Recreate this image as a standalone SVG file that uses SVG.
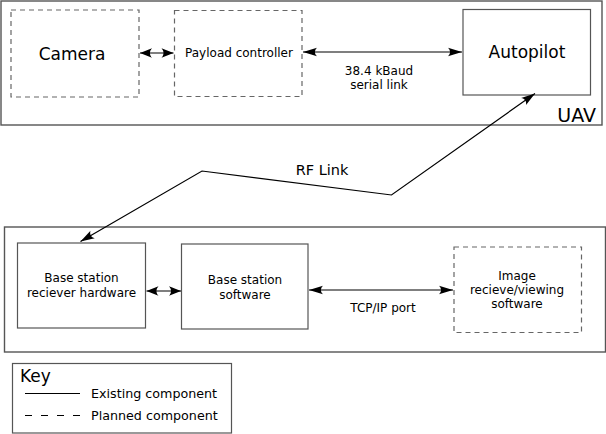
<svg xmlns="http://www.w3.org/2000/svg" width="606" height="434" viewBox="0 0 606 434">
<style>
text{font-family:"DejaVu Sans","Liberation Sans",sans-serif;fill:#000}
.box{fill:#fff;stroke:#555;stroke-width:1.2}
.dash{fill:#fff;stroke:#666;stroke-width:1.2;stroke-dasharray:5,4}
.cont{fill:#fff;stroke:#555;stroke-width:1.4}
.conn{fill:none;stroke:#000;stroke-width:1.2}
.big{font-size:17px}
.sm{font-size:12px}
.key{font-size:12.7px}
</style>
<defs>
<marker id="ah" markerUnits="userSpaceOnUse" markerWidth="17" markerHeight="11" viewBox="-15 -5.5 16 11" refX="0" refY="0" orient="auto-start-reverse">
<path d="M0,0 L-14,-4.3 C-11.3,-1.6 -11.3,1.6 -14,4.3 Z" fill="#000"/>
</marker>
<marker id="ahs" markerUnits="userSpaceOnUse" markerWidth="15" markerHeight="12" viewBox="-13 -6 14 12" refX="0" refY="0" orient="auto-start-reverse">
<path d="M0,0 L-12,-4.8 C-9.3,-1.8 -9.3,1.8 -12,4.8 Z" fill="#000"/>
</marker>
</defs>
<rect width="606" height="434" fill="#fff"/>
<g id="uav">
<rect class="cont" x="1" y="1" width="601" height="124"/>
<text x="596" y="122" font-size="19" text-anchor="end">UAV</text>
</g>
<g id="ground">
<rect class="cont" x="4.5" y="227" width="601" height="125"/>
</g>
<g id="camera">
<rect class="dash" x="11" y="10" width="128" height="87"/>
<text class="big" x="72" y="60" text-anchor="middle">Camera</text>
</g>
<g id="payload">
<rect class="dash" x="174.5" y="10.5" width="127.5" height="86"/>
<text class="sm" x="239" y="57" text-anchor="middle">Payload controller</text>
</g>
<g id="autopilot">
<rect class="box" x="463" y="9.5" width="127.5" height="85.5"/>
<text class="big" x="527" y="58" text-anchor="middle">Autopilot</text>
</g>
<g id="hw">
<rect class="box" x="17.5" y="243" width="128" height="85"/>
<text class="sm" x="81.5" y="282" text-anchor="middle">Base station</text>
<text class="sm" x="81.5" y="297" text-anchor="middle">reciever hardware</text>
</g>
<g id="sw">
<rect class="box" x="181.5" y="244" width="126.5" height="85"/>
<text class="sm" x="245" y="284" text-anchor="middle">Base station</text>
<text class="sm" x="245" y="299" text-anchor="middle">software</text>
</g>
<g id="viewer">
<rect class="dash" x="454" y="247" width="127.5" height="85.5"/>
<text class="sm" x="517" y="280" text-anchor="middle">Image</text>
<text class="sm" x="517" y="294" text-anchor="middle">recieve/viewing</text>
<text class="sm" x="517" y="308" text-anchor="middle">software</text>
</g>
<g id="connectors">
<line class="conn" x1="140" y1="53" x2="173.5" y2="53" marker-start="url(#ahs)" marker-end="url(#ahs)"/>
<line class="conn" x1="303" y1="52" x2="462" y2="52" marker-start="url(#ah)" marker-end="url(#ah)"/>
<text class="sm" x="379" y="75" text-anchor="middle">38.4 kBaud</text>
<text class="sm" x="379" y="89" text-anchor="middle">serial link</text>
<polyline class="conn" points="535,93.5 391.5,195 202,171 80.5,241.5" marker-start="url(#ah)" marker-end="url(#ah)"/>
<text x="322" y="175" font-size="14.5" text-anchor="middle">RF Link</text>
<line class="conn" x1="146.5" y1="291" x2="181" y2="291" marker-start="url(#ahs)" marker-end="url(#ahs)"/>
<line class="conn" x1="309" y1="290" x2="453" y2="290" marker-start="url(#ah)" marker-end="url(#ah)"/>
<text class="sm" x="383" y="312" text-anchor="middle">TCP/IP port</text>
</g>
<g id="legend">
<rect class="box" x="12.5" y="363.5" width="219" height="69.5"/>
<text x="20" y="382" font-size="17">Key</text>
<line x1="25" y1="393.5" x2="80" y2="393.5" stroke="#000" stroke-width="1.2"/>
<text class="key" x="91" y="398">Existing component</text>
<line x1="25" y1="415.5" x2="80" y2="415.5" stroke="#000" stroke-width="1.2" stroke-dasharray="7,9"/>
<text class="key" x="91" y="420">Planned component</text>
</g>
</svg>
